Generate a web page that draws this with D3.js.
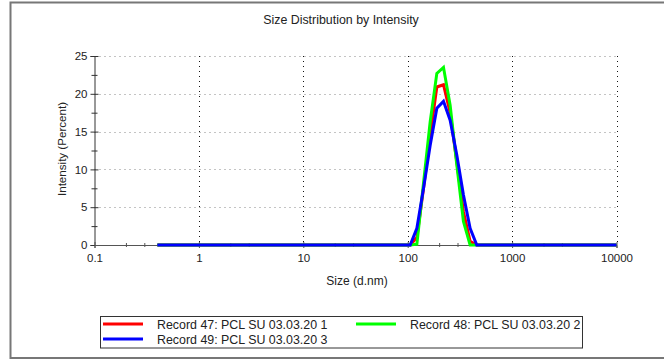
<!DOCTYPE html>
<html><head><meta charset="utf-8">
<script src="https://cdn.jsdelivr.net/npm/d3@7"></script>
<style>body{margin:0;background:#fff}svg{display:block}text{font-family:"Liberation Sans",Arial,sans-serif;fill:#222}</style>
</head><body><svg id="c" width="664" height="360"></svg>
<script>
const sizes = [0.4,0.4632,0.5365,0.6213,0.7195,0.8332,0.9649,1.117,1.294,1.499,1.736,2.01,2.328,2.696,3.122,3.615,4.187,4.849,5.615,6.503,7.531,8.721,10.1,11.7,13.54,15.69,18.17,21.04,24.36,28.21,32.67,37.84,43.82,50.75,58.77,68.06,78.82,91.28,105.7,122.4,141.8,164.2,190.1,220.2,255.0,295.3,342.0,396.1,458.7,531.2,615.1,712.4,825.0,955.4,1106,1281,1484,1718,1990,2305,2669,3091,3580,4145,4801,5560,6439,7456,8635,10000];
const record47 = [0,0,0,0,0,0,0,0,0,0,0,0,0,0,0,0,0,0,0,0,0,0,0,0,0,0,0,0,0,0,0,0,0,0,0,0,0,0,0,1.0,7.5,14.5,20.9,21.2,17.5,11.0,4.4,0.5,0,0,0,0,0,0,0,0,0,0,0,0,0,0,0,0,0,0,0,0,0,0];
const record48 = [0,0,0,0,0,0,0,0,0,0,0,0,0,0,0,0,0,0,0,0,0,0,0,0,0,0,0,0,0,0,0,0,0,0,0,0,0,0,0,0.1,8.2,16.3,22.7,23.5,18.5,10.6,3.1,0,0,0,0,0,0,0,0,0,0,0,0,0,0,0,0,0,0,0,0,0,0,0];
const record49 = [0,0,0,0,0,0,0,0,0,0,0,0,0,0,0,0,0,0,0,0,0,0,0,0,0,0,0,0,0,0,0,0,0,0,0,0,0,0,0,2.2,7.5,13.2,18.1,19.0,16.5,11.9,6.6,2.2,0,0,0,0,0,0,0,0,0,0,0,0,0,0,0,0,0,0,0,0,0,0];
const seriesNames = ["Record 47: PCL SU 03.03.20 1","Record 48: PCL SU 03.03.20 2","Record 49: PCL SU 03.03.20 3"];
const seriesColors = ["#ff0000","#00ff00","#0000ff"];
const xTicks = [0.1,1,10,100,1000,10000];
const xTickLabels = ["0.1","1","10","100","1000","10000"];
const xMinor = [0.2,0.3,2,3,20,30,200,300,2000,3000];
const yTicks = [0,5,10,15,20,25];
const yMinor = [2.5,7.5,12.5,17.5,22.5];

const svg = d3.select("#c");
const L=94.5, R=616.5, T=56, B=245;
const x = d3.scaleLog().domain([0.1,10000]).range([L,R]);
const y = d3.scaleLinear().domain([0,25]).range([B,T]);

// frame
svg.append("path").attr("d","M670,2.5 H10.5 V358 H670").attr("fill","none").attr("stroke","#777").attr("stroke-width",2);

svg.append("text").attr("x",341).attr("y",24).attr("text-anchor","middle").style("font-size","12.4px").text("Size Distribution by Intensity");

// grid
const g = svg.append("g");
g.selectAll(".hg").data(yTicks.slice(1)).join("line").attr("x1",L).attr("x2",R)
 .attr("y1",d=>Math.round(y(d))+0.5).attr("y2",d=>Math.round(y(d))+0.5)
 .attr("stroke","#888").attr("stroke-width",1).attr("stroke-dasharray","1,4");
g.selectAll(".vg").data(xTicks.slice(1)).join("line").attr("y1",T).attr("y2",B)
 .attr("x1",d=>Math.round(x(d))+0.5).attr("x2",d=>Math.round(x(d))+0.5)
 .attr("stroke","#111").attr("stroke-width",1).attr("stroke-dasharray","1,4");

// axes
const ya = svg.append("g").attr("transform",`translate(${L},0)`)
 .call(d3.axisLeft(y).tickValues(yTicks).tickSize(4).tickPadding(3));
ya.select(".domain").attr("stroke","#333");
ya.selectAll(".tick line").attr("x1",4).attr("x2",-4).attr("stroke","#333");
ya.selectAll(".tick text").style("font-size","11.5px").style("font-family","Liberation Sans, Arial, sans-serif").attr("fill","#333");
const ym = svg.append("g").attr("transform",`translate(${L},0)`)
 .call(d3.axisLeft(y).tickValues(yMinor).tickSize(3).tickFormat(""));
ym.select(".domain").remove();
ym.selectAll(".tick line").attr("x1",3).attr("x2",-3).attr("stroke","#333");

const xa = svg.append("g").attr("transform",`translate(0,${B})`)
 .call(d3.axisBottom(x).tickValues(xTicks).tickFormat((d,i)=>xTickLabels[i]).tickSize(3).tickPadding(6));
xa.select(".domain").attr("stroke","#555");
xa.selectAll(".tick line").attr("y1",-3).attr("y2",3).attr("stroke","#555");
xa.selectAll(".tick text").style("font-size","11.5px").style("font-family","Liberation Sans, Arial, sans-serif").attr("fill","#333");
const xm = svg.append("g").attr("transform",`translate(0,${B})`)
 .call(d3.axisBottom(x).tickValues(xMinor).tickSize(2).tickFormat(""));
xm.select(".domain").remove();
xm.selectAll(".tick line").attr("y1",-2).attr("y2",2).attr("stroke","#555");

svg.append("text").attr("x",357).attr("y",285).attr("text-anchor","middle").style("font-size","12px").text("Size (d.nm)");
svg.append("text").attr("transform","translate(66,149) rotate(-90)").attr("text-anchor","middle").style("font-size","11.6px").text("Intensity (Percent)");

// lines
const series = [record47, record48, record49];
const line = d3.line().x((d,i)=>x(sizes[i])).y(d=>y(d));
series.forEach((s,k)=>{
  svg.append("path").datum(s).attr("d",line).attr("fill","none")
   .attr("stroke",seriesColors[k]).attr("stroke-width",3).attr("stroke-linejoin","miter");
});

// legend
const lg = svg.append("g");
lg.append("rect").attr("x",100.5).attr("y",316.5).attr("width",482).attr("height",31.5).attr("fill","#fff").attr("stroke","#333").attr("stroke-width",1);
const pos = [[103,324],[356,324],[103,339]];
pos.forEach((p,k)=>{
  lg.append("line").attr("x1",p[0]).attr("x2",p[0]+40).attr("y1",p[1]).attr("y2",p[1]).attr("stroke",seriesColors[k]).attr("stroke-width",3);
  lg.append("text").attr("x",p[0]+54).attr("y",p[1]+4.5).style("font-size","12.4px").text(seriesNames[k]);
});
</script></body></html>
